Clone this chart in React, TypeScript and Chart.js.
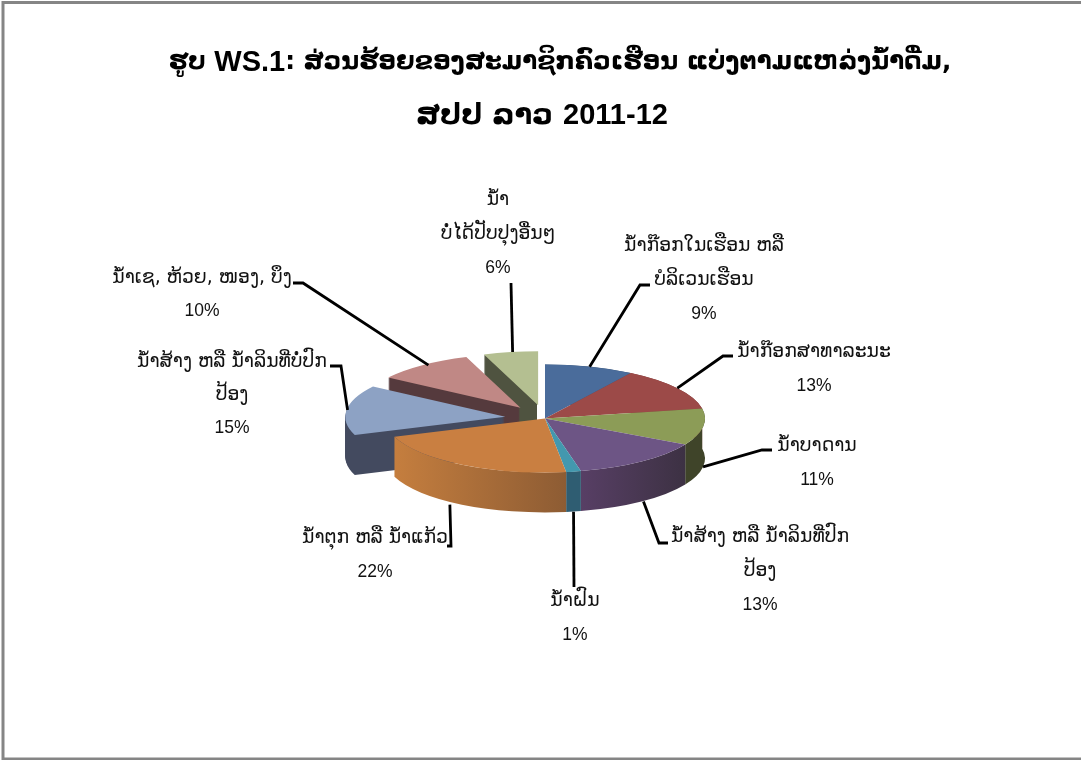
import React, { useEffect, useRef } from "react";
import { Chart, registerables } from "chart.js";

Chart.register(...registerables);

const titleLines = [
  "ຮູບ WS.1: ສ່ວນຮ້ອຍຂອງສະມາຊິກຄົວເຮືອນ ແບ່ງຕາມແຫລ່ງນ້ໍາດື່ມ,",
  "ສປປ ລາວ 2011-12",
];
const titleCx = [560, 542];
const titleY = [63, 116];
const titleLaoSize = [24.5, 29];
const TITLE_LATIN_SIZE = 29;

const categories = [
  "ນ້ໍາກ໊ອກໃນເຮືອນ ຫລື ບໍລິເວນເຮືອນ",
  "ນ້ໍາກ໊ອກສາທາລະນະ",
  "ນ້ໍາບາດານ",
  "ນ້ໍາສ້າງ ຫລື ນ້ໍາລິນທີ່ປົກປ້ອງ",
  "ນ້ໍາຝົນ",
  "ນ້ໍາຕຸກ ຫລື ນ້ໍາແກ້ວ",
  "ນ້ໍາສ້າງ ຫລື ນ້ໍາລິນທີ່ບໍ່ປົກປ້ອງ",
  "ນ້ໍາເຊ, ຫ້ວຍ, ໜອງ, ບຶງ",
  "ນ້ໍາບໍ່ໄດ້ປັບປຸງອື່ນໆ",
];
const values = [9, 13, 11, 13.4, 1.49, 21.61, 15, 10, 5.5];
const labelLines = [
  ["ນ້ໍາກ໊ອກໃນເຮືອນ ຫລື", "ບໍລິເວນເຮືອນ"],
  ["ນ້ໍາກ໊ອກສາທາລະນະ"],
  ["ນ້ໍາບາດານ"],
  ["ນ້ໍາສ້າງ ຫລື ນ້ໍາລິນທີ່ປົກ", "ປ້ອງ"],
  ["ນ້ໍາຝົນ"],
  ["ນ້ໍາຕຸກ ຫລື ນ້ໍາແກ້ວ"],
  ["ນ້ໍາສ້າງ ຫລື ນ້ໍາລິນທີ່ບໍ່ປົກ", "ປ້ອງ"],
  ["ນ້ໍາເຊ, ຫ້ວຍ, ໜອງ, ບຶງ"],
  ["ນ້ໍາ", "ບໍ່ໄດ້ປັບປຸງອື່ນໆ"],
];

const topColors = ["#4a6c9b", "#9c4a48", "#8c9c57", "#6d5585", "#4398ae", "#c97f41", "#8da2c4", "#c08885", "#b4bf91"];
const sideLeft = ["#3a5578", "#7a3a38", "#3f4429", "#5a4068", "#2f5d72", "#c8803f", "#434a5f", "#553a3d", "#4f5340"];
const sideRight = ["#3a5578", "#7a3a38", "#3f4429", "#3a3040", "#2f5d72", "#8a5a33", "#434a5f", "#553a3d", "#4f5340"];
const explode = [0, 0, 0, 0, 0, 0, 40, 40, 40];

// Layout of the callouts: text block centre x, first-line y, then the leader's points from the text towards the slice.
const labelCx = [704, 814, 817, 760, 575, 375, 232, 202, 498];
const labelTop = [246, 352, 446, 537, 601, 538, 362, 278, 200];
const labelStep = [34, 34, 34, 34, 34, 34, 33, 33, 34];
const leaderPoints: number[][][] = [
  [[650, 285], [640, 285]],
  [[733, 356], [723, 356]],
  [[772, 450], [762, 450]],
  [[668, 543], [659, 543]],
  [[574, 587]],
  [[447, 546], [451, 546]],
  [[330, 366], [341, 366]],
  [[293, 283], [303, 283]],
  [[511, 283]],
];
const anchorNudge = [0, 0, 0, 2, 0, -12, 1, 6, 2];

const TILT = 54 / 160;
const DEPTH = 40;
const LABEL_FONT = '18.8px "DejaVu Sans", "Liberation Sans", sans-serif';
const PERCENT_FONT = '17.5px "Liberation Sans", sans-serif';

const slicePath = (ctx: CanvasRenderingContext2D, el: any, dx: number, dy: number) => {
  ctx.beginPath();
  ctx.save();
  ctx.translate(el.x + dx, el.y + dy);
  ctx.scale(1, TILT);
  ctx.moveTo(0, 0);
  ctx.arc(0, 0, el.outerRadius, el.startAngle, el.endAngle);
  ctx.closePath();
  ctx.restore();
};

const rimPath = (ctx: CanvasRenderingContext2D, el: any) => {
  ctx.beginPath();
  ctx.save();
  ctx.translate(el.x, el.y);
  ctx.scale(1, TILT);
  ctx.arc(0, 0, el.outerRadius, el.startAngle, el.endAngle);
  ctx.restore();
  ctx.save();
  ctx.translate(el.x, el.y + DEPTH);
  ctx.scale(1, TILT);
  ctx.arc(0, 0, el.outerRadius, el.endAngle, el.startAngle, true);
  ctx.restore();
  ctx.closePath();
};

const sideGradient = (ctx: CanvasRenderingContext2D, el: any, ex: number, i: number) => {
  const xs = [Math.cos(el.startAngle), Math.cos(el.endAngle)].map((c) => el.x + ex + c * el.outerRadius);
  const g = ctx.createLinearGradient(Math.min(...xs) - 10, 0, Math.max(...xs) + 10, 0);
  g.addColorStop(0, sideLeft[i]);
  g.addColorStop(1, sideRight[i]);
  return g;
};

const drawTop = (ctx: CanvasRenderingContext2D, el: any, ex: number, ey: number) => {
  ctx.save();
  ctx.translate(el.x + ex, el.y + ey);
  ctx.scale(1, TILT);
  ctx.translate(-el.x, -el.y);
  el.draw(ctx);
  ctx.restore();
};

const pie3d = {
  id: "pie3d",
  beforeDraw(chart: any) {
    const { ctx, width } = chart;
    ctx.save();
    ctx.fillStyle = "#ffffff";
    ctx.fillRect(0, 0, width, chart.height);
    ctx.strokeStyle = "#858585";
    ctx.lineWidth = 3;
    ctx.strokeRect(3, 2.5, width + 10, 756.5);
    // title: Lao runs and Latin runs are set at their own sizes
    ctx.fillStyle = "#000000";
    ctx.textBaseline = "middle";
    ctx.textAlign = "left";
    titleLines.forEach((line, li) => {
      const runs = line.split(/([A-Za-z0-9.\-]+)/).filter((r) => r.length > 0);
      const fontOf = (r: string) =>
        /[\u0E80-\u0EFF]/.test(r)
          ? `bold ${titleLaoSize[li]}px "DejaVu Sans", sans-serif`
          : `bold ${TITLE_LATIN_SIZE}px "Liberation Sans", sans-serif`;
      const widths = runs.map((r) => {
        ctx.font = fontOf(r);
        return ctx.measureText(r).width;
      });
      let x = titleCx[li] - widths.reduce((a, b) => a + b, 0) / 2;
      runs.forEach((r, k) => {
        ctx.font = fontOf(r);
        ctx.fillText(r, x, titleY[li]);
        x += widths[k];
      });
    });
    ctx.restore();
  },
  beforeDatasetsDraw(chart: any) {
    const { ctx } = chart;
    const arcs = chart.getDatasetMeta(0).data;
    // exploded slices from the back first: olive, pink, blue-grey
    [8, 7, 6].forEach((i) => {
      const el = arcs[i];
      const mid = (el.startAngle + el.endAngle) / 2;
      const ex = Math.cos(mid) * explode[i];
      const ey = Math.sin(mid) * explode[i] * TILT;
      const right = Math.max(el.x + ex, el.x + ex + Math.cos(el.startAngle) * el.outerRadius, el.x + ex + Math.cos(el.endAngle) * el.outerRadius);
      ctx.save();
      ctx.beginPath();
      ctx.rect(0, 0, right - 1, chart.height);
      ctx.clip();
      ctx.fillStyle = sideGradient(ctx, el, ex, i);
      for (let d = DEPTH; d > 0; d--) {
        slicePath(ctx, el, ex, ey + d);
        ctx.fill();
      }
      ctx.restore();
      drawTop(ctx, el, ex, ey);
    });
    // the main disc: outer walls first, then every top over them
    [0, 1, 2, 3, 4, 5].forEach((i) => {
      ctx.save();
      ctx.fillStyle = sideGradient(ctx, arcs[i], 0, i);
      rimPath(ctx, arcs[i]);
      ctx.fill();
      ctx.restore();
    });
    [0, 1, 2, 3, 4, 5].forEach((i) => drawTop(ctx, arcs[i], 0, 0));
    return false;
  },
  afterDraw(chart: any) {
    const { ctx } = chart;
    const arcs = chart.getDatasetMeta(0).data;
    const total = values.reduce((a, b) => a + b, 0);
    ctx.save();
    ctx.strokeStyle = "#000000";
    ctx.fillStyle = "#111111";
    ctx.lineWidth = 2.8;
    ctx.textAlign = "center";
    ctx.textBaseline = "middle";
    arcs.forEach((el: any, i: number) => {
      const mid = (el.startAngle + el.endAngle) / 2;
      const rx = Math.cos(mid);
      const ry = Math.sin(mid);
      const ax = el.x + rx * (el.outerRadius + explode[i]) + anchorNudge[i];
      const ay = el.y + ry * (el.outerRadius + explode[i]) * TILT + (ry > 0 ? DEPTH : 0);
      ctx.beginPath();
      leaderPoints[i].forEach((p, k) => (k === 0 ? ctx.moveTo(p[0], p[1]) : ctx.lineTo(p[0], p[1])));
      ctx.lineTo(ax, ay);
      ctx.stroke();
      const lines = labelLines[i];
      ctx.font = LABEL_FONT;
      lines.forEach((t, k) => ctx.fillText(t, labelCx[i], labelTop[i] + k * labelStep[i]));
      ctx.font = PERCENT_FONT;
      ctx.fillText(Math.round((values[i] / total) * 100) + "%", labelCx[i], labelTop[i] + lines.length * labelStep[i]);
    });
    ctx.restore();
  },
};

export default function App() {
  const ref = useRef<HTMLCanvasElement>(null);
  useEffect(() => {
    document.body.style.margin = "0";
    const chart = new Chart(ref.current!, {
      type: "pie",
      data: {
        labels: categories,
        datasets: [{ data: values, backgroundColor: topColors, borderWidth: 0, radius: 160 }],
      },
      options: {
        responsive: false,
        animation: false,
        layout: { padding: { left: 9, right: 0, top: 141, bottom: 64 } },
        plugins: {
          legend: { display: false },
          tooltip: { enabled: false },
          title: { display: false },
        },
      },
      plugins: [pie3d],
    } as any);
    return () => chart.destroy();
  }, []);
  return <canvas ref={ref} width={1081} height={760} style={{ display: "block" }} />;
}
